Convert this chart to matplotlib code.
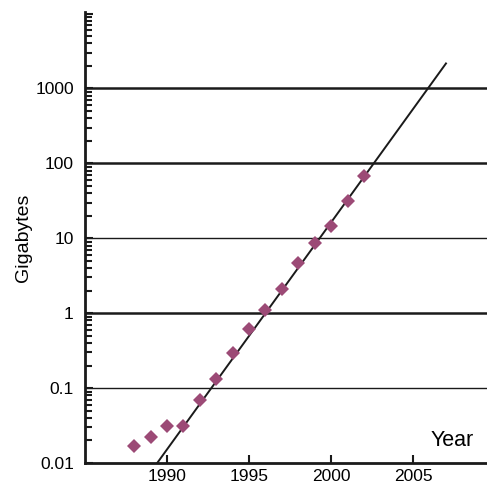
import numpy as np
import matplotlib
matplotlib.use("Agg")
import matplotlib.pyplot as plt
from matplotlib.ticker import LogLocator, NullFormatter, FixedFormatter, FixedLocator

plt.rcParams['font.family'] = ['Liberation Sans', 'DejaVu Sans']

# 数据：每年的存储容量 (GB)
years = [1988, 1989, 1990, 1991, 1992, 1993, 1994, 1995, 1996, 1997,
         1998, 1999, 2000, 2001, 2002]
gigabytes = [0.017, 0.022, 0.031, 0.031, 0.07, 0.134, 0.29, 0.61, 1.09, 2.1,
             4.65, 8.6, 14.5, 31, 68]

# 趋势线两个端点
trend_years = [1989.4, 2007.0]
trend_gb = [0.01, 2160]

ytick_values = [0.01, 0.1, 1, 10, 100, 1000]
ytick_labels = ["0.01", "0.1", "1", "10", "100", "1000"]
xtick_values = [1990, 1995, 2000, 2005]
grid_thick = [1, 100, 1000]
grid_thin = [0.1, 10]

fig = plt.figure(figsize=(4.87, 4.86), dpi=100)
ax = fig.add_axes([0.1745, 0.0473, 0.8255, 0.928])

for g in grid_thick:
    ax.axhline(g, color="#1a1a1a", lw=1.8, zorder=1)
for g in grid_thin:
    ax.axhline(g, color="#1a1a1a", lw=1.0, zorder=1)

ax.plot(trend_years, trend_gb, color="#1a1a1a", lw=1.4, zorder=2)
ax.plot(years, gigabytes, linestyle="none", marker="D", markersize=7.2,
        color="#9c4a76", markeredgewidth=0, zorder=3)

ax.set_yscale("log")
ax.set_xlim(1985, 2009.5)
ax.set_ylim(0.01, 10500)

ax.yaxis.set_major_locator(FixedLocator(ytick_values + [10000]))
ax.yaxis.set_major_formatter(FixedFormatter(ytick_labels + [""]))
ax.yaxis.set_minor_locator(LogLocator(base=10, subs=np.arange(2, 10), numticks=20))
ax.yaxis.set_minor_formatter(NullFormatter())
ax.set_xticks(xtick_values)
ax.set_xticklabels([str(v) for v in xtick_values])

ax.tick_params(axis="both", which="both", direction="in", color="#1a1a1a",
               labelsize=12.5, width=1.5)
ax.tick_params(axis="y", which="major", length=6, pad=8)
ax.tick_params(axis="y", which="minor", length=5)
ax.tick_params(axis="x", which="major", length=6, pad=4)

for side in ["top", "right"]:
    ax.spines[side].set_visible(False)
for side in ["left", "bottom"]:
    ax.spines[side].set_linewidth(2.0)
    ax.spines[side].set_color("#1a1a1a")

ax.set_ylabel("Gigabytes", fontsize=14)
ax.yaxis.set_label_coords(-0.132, 0.5)
ax.text(0.913, 0.051, "Year", transform=ax.transAxes, fontsize=15.5,
        ha="center", va="center")

fig.savefig("out.png", dpi=100)
